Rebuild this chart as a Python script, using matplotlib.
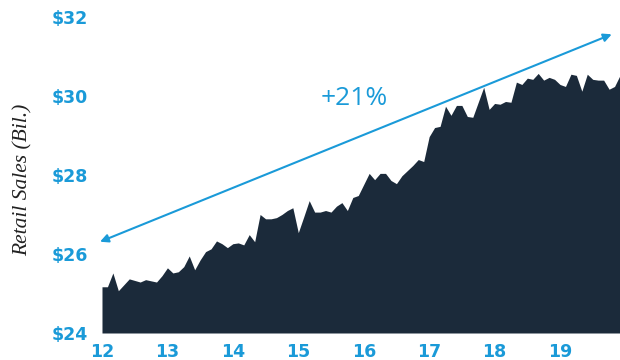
import numpy as np
import matplotlib
matplotlib.use("Agg")
import matplotlib.pyplot as plt

# Monthly retail sales (billions), Jan 2012 .. Dec 2019
sales = [
    25.17, 25.17, 25.52, 25.07, 25.22, 25.37, 25.33, 25.29, 25.35, 25.32, 25.29, 25.45,  # 2012
    25.65, 25.52, 25.55, 25.68, 25.95, 25.60, 25.85, 26.06, 26.13, 26.33, 26.26, 26.16,  # 2013
    26.26, 26.28, 26.23, 26.49, 26.31, 27.00, 26.89, 26.89, 26.92, 27.00, 27.10, 27.17,  # 2014
    26.54, 26.94, 27.35, 27.06, 27.06, 27.10, 27.06, 27.21, 27.30, 27.10, 27.43, 27.48,  # 2015
    27.76, 28.04, 27.88, 28.04, 28.04, 27.86, 27.78, 27.98, 28.11, 28.24, 28.39, 28.34,  # 2016
    28.97, 29.20, 29.23, 29.74, 29.51, 29.76, 29.76, 29.48, 29.46, 29.84, 30.22, 29.66,  # 2017
    29.81, 29.79, 29.86, 29.84, 30.35, 30.29, 30.45, 30.42, 30.57, 30.40, 30.47, 30.42,  # 2018
    30.29, 30.24, 30.55, 30.52, 30.12, 30.55, 30.42, 30.40, 30.40, 30.17, 30.24, 30.52,  # 2019
]
x_ticks = [12, 13, 14, 15, 16, 17, 18, 19]
x_tick_labels = ["12", "13", "14", "15", "16", "17", "18", "19"]
y_ticks = [24, 26, 28, 30, 32]
y_tick_labels = ["$24", "$26", "$28", "$30", "$32"]
arrow_start = (11.97, 26.31)
arrow_end = (19.79, 31.56)
growth_label = "+21%"
y_label = "Retail Sales (Bil.)"

years = 12 + np.arange(len(sales)) / 12.0

navy = "#1b2a3a"
blue = "#1a9ad8"

fig = plt.figure(figsize=(6.2, 3.6), dpi=100)
ax = fig.add_axes([0.1645, 0.075, 0.8355, 0.878])

ax.fill_between(years, 24, sales, color=navy, linewidth=0, zorder=2)
ax.set_xlim(years[0], years[-1])
ax.set_ylim(24, 32)

for s in ax.spines.values():
    s.set_visible(False)

ax.set_xticks(x_ticks)
ax.set_xticklabels(x_tick_labels)
ax.set_yticks(y_ticks)
ax.set_yticklabels(y_tick_labels)
ax.tick_params(axis="both", length=0, colors=blue, labelsize=12.5)
ax.tick_params(axis="x", pad=7)
ax.tick_params(axis="y", pad=10)
for lab in ax.get_xticklabels() + ax.get_yticklabels():
    lab.set_fontfamily("DejaVu Sans")
    lab.set_fontweight("bold")
    lab.set_color(blue)

ax.set_ylabel(y_label, family="Liberation Serif", style="italic",
              fontsize=15.5, color="#222222", labelpad=14)
ax.yaxis.label.set_y(0.485)

ax.annotate("", xy=arrow_end, xytext=arrow_start, annotation_clip=False,
            arrowprops=dict(arrowstyle="<|-|>", color=blue, lw=1.5,
                            mutation_scale=12, shrinkA=0, shrinkB=0),
            zorder=3)

ax.text(15.85, 29.93, growth_label, color=blue, fontsize=19,
        family="Open Sans", ha="center", va="center")

fig.savefig("out.png", dpi=100)
